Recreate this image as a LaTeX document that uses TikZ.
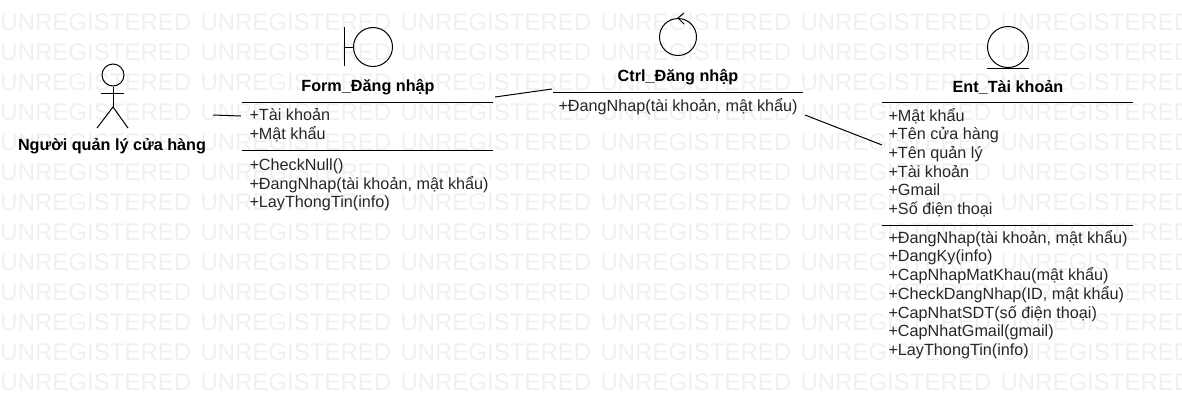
\documentclass[tikz,border=0pt]{standalone}
\usepackage{fontspec}
\setmainfont{Liberation Sans}
\begin{document}
\begin{tikzpicture}[x=1pt, y=-1pt, line width=1pt,
    title/.style={font=\fontsize{16.2}{18}\selectfont\bfseries, inner sep=0pt},
    member/.style={font=\fontsize{16.2}{18.7}\selectfont, align=left, anchor=west, inner sep=0pt, text=black!85},
    mark text/.style={font=\fontsize{24}{26}\selectfont, text=black!6, inner sep=0pt, anchor=west}]

    % page
    \useasboundingbox (0, 0) rectangle (1182, 416);

    % background text
    \begin{scope}
        \clip (0, 0) rectangle (1182, 416);
        \foreach \r in {0,...,12}
            \foreach \c in {0,...,5}
                \node[mark text] (mark-\r-\c) at (\c*200, 22+\r*30) {UNREGISTERED};
    \end{scope}

    % actor
    \node[draw, circle, minimum size=22pt, inner sep=0pt] (head) at (113, 75) {};
    \coordinate (hip) at (113, 107);
    \draw (head.south) -- (hip);
    \draw (101, 93) -- (124, 93);
    \draw (97, 128) -- (hip) -- (128, 128);
    \node[title] (actor) at (112, 146) {Người quản lý cửa hàng};

    % boundary
    \node[draw, circle, minimum size=39pt, inner sep=0pt] (formicon) at (373, 47) {};
    \coordinate (formbar) at (344, 47);
    \draw (344, 27) -- (344, 66);
    \draw (formbar) -- (formicon.west);
    \node[title] (formtitle) at (368, 87.5) {Form\_Đăng nhập};
    \draw (242, 102.5) -- (493, 102.5);
    \draw (242, 150) -- (493, 150);
    \node[member] (formattr) at (249, 125.5) {+Tài khoản\\+Mật khẩu};
    \node[member] (formop) at (249, 185) {+CheckNull()\\+ĐangNhap(tài khoản, mật khẩu)\\+LayThongTin(info)};

    % control
    \node[draw, circle, minimum size=37pt, inner sep=0pt] (ctrlicon) at (678, 37) {};
    \draw (684, 13) -- (678, 18) -- (684, 24);
    \node[title] (ctrltitle) at (678, 77.5) {Ctrl\_Đăng nhập};
    \draw (553, 92.5) -- (803, 92.5);
    \node[member] (ctrlop) at (558, 107) {+ĐangNhap(tài khoản, mật khẩu)};

    % entity
    \node[draw, circle, minimum size=41pt, inner sep=0pt] (enticon) at (1008, 47) {};
    \draw (987, 68) -- (1029, 68);
    \node[title] (enttitle) at (1008, 87.5) {Ent\_Tài khoản};
    \draw (882, 102.5) -- (1133, 102.5);
    \draw (882, 225) -- (1133, 225);
    \node[member] (entattr) at (888, 162.5) {+Mật khẩu\\+Tên cửa hàng\\+Tên quản lý\\+Tài khoản\\+Gmail\\+Số điện thoại};
    \node[member] (entop) at (888, 294.5) {+ĐangNhap(tài khoản, mật khẩu)\\+DangKy(info)\\+CapNhapMatKhau(mật khẩu)\\+CheckDangNhap(ID, mật khẩu)\\+CapNhatSDT(số điện thoại)\\+CapNhatGmail(gmail)\\+LayThongTin(info)};

    % links
    \coordinate (link1a) at (213, 115);
    \coordinate (link1b) at (241, 116);
    \coordinate (link2a) at (495, 97);
    \coordinate (link2b) at (552, 89);
    \coordinate (link3a) at (805, 115);
    \coordinate (link3b) at (882, 145);
    \draw (link1a) -- (link1b);
    \draw (link2a) -- (link2b);
    \draw (link3a) -- (link3b);
\end{tikzpicture}
\end{document}
